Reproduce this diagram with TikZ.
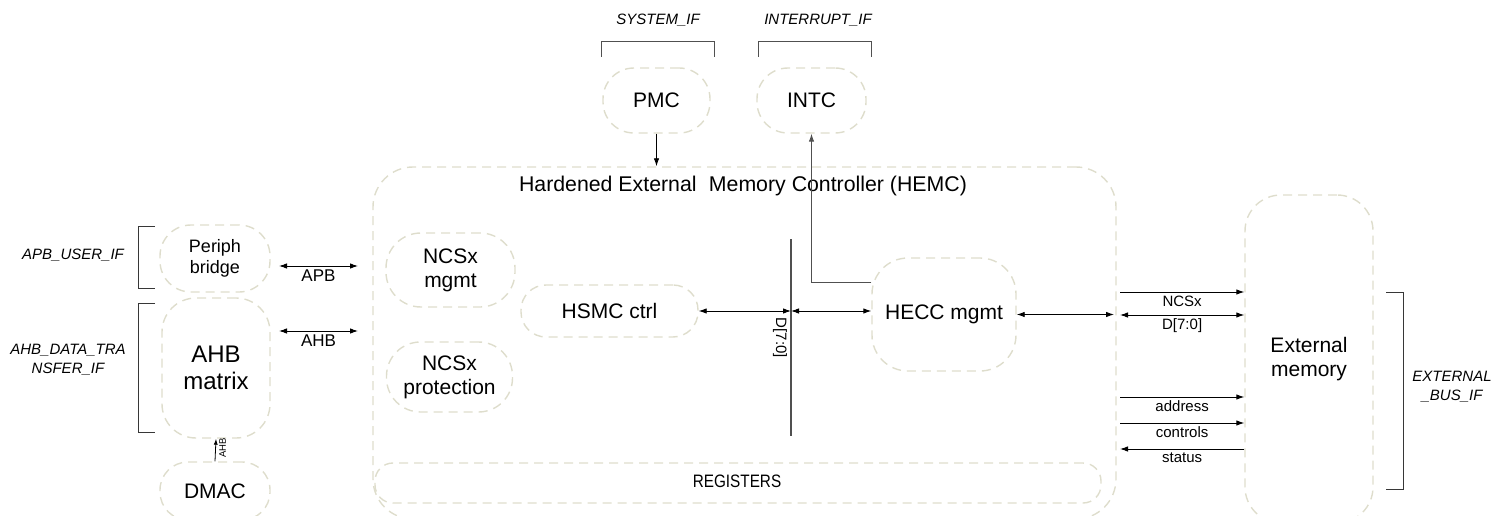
\documentclass[tikz,border=0pt]{standalone}
\usepackage{fontspec}
\setmainfont{Liberation Sans}
\usetikzlibrary{arrows.meta}
\definecolor{dashcol}{RGB}{222,221,204}
\definecolor{brk}{RGB}{55,55,55}
\definecolor{busgray}{RGB}{80,80,80}
\tikzset{
  blk/.style={draw=dashcol, line width=1.4pt, dash pattern=on 9pt off 6pt, rounded corners=#1, align=center, inner sep=0pt},
  blk/.default=25pt,
  f24/.style={font=\fontsize{24}{27}\selectfont},
  f21/.style={font=\fontsize{21}{24}\selectfont},
  ftitle/.style={font=\fontsize{21.3}{24}\selectfont},
  f18/.style={font=\fontsize{18}{21}\selectfont},
  f17/.style={font=\fontsize{17}{20}\selectfont},
  f15/.style={font=\fontsize{15}{18}\selectfont},
  ifl/.style={font=\fontsize{15}{19}\selectfont\itshape, align=center},
  brack/.style={draw=brk, line width=1pt},
  arr/.style={draw=black, line width=0.9pt, -{Latex[length=8pt,width=5.5pt]}},
  darr/.style={draw=black, line width=0.9pt, {Latex[length=8pt,width=5.5pt]}-{Latex[length=8pt,width=5.5pt]}},
}
\begin{document}
\begin{tikzpicture}[x=1pt,y=-1pt]
\useasboundingbox (0,0) rectangle (1494,516);
\clip (0,0) rectangle (1494,516);

% ---- main HEMC box
\node[blk=40pt, minimum width=743pt, minimum height=352pt] (hemc) at (744.5,343) {};
\node[ftitle] (title) at (743,186) {Hardened External\hspace{0.3em} Memory Controller (HEMC)};

% ---- left side
\node[blk=31pt, f18, minimum width=110pt, minimum height=67pt] (pb) at (215,258.5) {Periph\\bridge};
\node[blk=34pt, f24, minimum width=108pt, minimum height=140pt] (ahb) at (216,368) {AHB\\matrix};
\node[blk=28pt, f21, minimum width=110pt, minimum height=58pt] (dmac) at (215,491) {DMAC};

\draw[brack] (155,226) -- (138,226) -- (138,288) -- (155,288);
\draw[brack] (155,303) -- (138,303) -- (138,432) -- (155,432);
\node[ifl] (lapbif) at (73,255) {APB\_USER\_IF};
\node[ifl] (lahbif) at (68,360) {AHB\_DATA\_TRA\\NSFER\_IF};

\coordinate (apbL) at (279,266);
\coordinate (apbR) at (358,266);
\draw[darr] (apbL) -- (apbR) node[midway, below=0pt, f17] (lapb) {APB};
\coordinate (ahbL) at (279,331);
\coordinate (ahbR) at (358,331);
\draw[darr] (ahbL) -- (ahbR) node[midway, below=0pt, f17] (lahb) {AHB};

\draw[arr, line width=0.8pt, -{Latex[length=6pt,width=4pt]}] (dmac.north) -- (ahb.south);
\node[rotate=90, font=\fontsize{9.5}{11}\selectfont] (ldmac) at (222.5,448) {AHB};

% ---- top
\node[blk=31pt, f21, minimum width=107pt, minimum height=65pt] (pmc) at (656.5,100.5) {PMC};
\node[blk=31pt, f21, minimum width=109pt, minimum height=65pt] (intc) at (811.5,100.5) {INTC};
\draw[brack, draw=busgray] (601,57) -- (601,42) -- (714,42) -- (714,57);
\draw[brack, draw=busgray] (758,57) -- (758,42) -- (871,42) -- (871,57);
\node[ifl] (lsys) at (658,20) {SYSTEM\_IF};
\node[ifl] (lint) at (818,20) {INTERRUPT\_IF};
\draw[arr] (pmc.south) -- (pmc.south |- hemc.north);

% ---- inside HEMC
\node[blk=35pt, f21, minimum width=129pt, minimum height=74pt] (ncsm) at (450.5,270) {NCSx\\mgmt};
\node[blk=34pt, f21, minimum width=126pt, minimum height=70pt] (ncsp) at (449.5,377) {NCSx\\protection};
\node[blk=25pt, f21, minimum width=177pt, minimum height=52pt] (hsmc) at (609.5,311) {HSMC ctrl};
\node[blk=36pt, f21, minimum width=144pt, minimum height=113pt] (hecc) at (944,314.5) {HECC mgmt};
\node[blk=18pt, minimum width=726pt, minimum height=40pt] (regs) at (738,483) {};
\node[f18] (lregs) at (737,481) {\scalebox{0.85}[1]{REGISTERS}};

\coordinate (busT) at (791,239);
\coordinate (busB) at (791,436);
\draw[draw=busgray, line width=1.2pt] (busT) -- (busB);
\node[rotate=-90, f15] (ld70) at (780,338) {D[7:0]};
\draw[darr] (hsmc.east) -- (hsmc.east -| busT);
\draw[darr] (hsmc.east -| busT) -- (hsmc.east -| hecc.west);
\draw[arr, draw=busgray] (hecc.west |- 0,282) -| (intc.south);

\coordinate (heccR) at (1114,314.5);
\draw[darr] (hecc.east) -- (heccR);

% ---- external memory
\node[blk=36pt, f21, minimum width=128pt, minimum height=328pt] (ext) at (1309,359) {External\\memory};
\draw[brack] (1386,292) -- (1403,292) -- (1403,489) -- (1386,489);
\node[ifl] (lextif) at (1452,387) {EXTERNAL\\\_BUS\_IF};

\coordinate (s1) at (1120,292);
\draw[arr] (s1) -- (s1 -| ext.west) node[midway, below=0pt, f15] (lncs) {NCSx};
\coordinate (s2) at (1120,315);
\draw[darr] (s2) -- (s2 -| ext.west) node[midway, below=0pt, f15] (ld) {D[7:0]};
\coordinate (s3) at (1120,397);
\draw[arr] (s3) -- (s3 -| ext.west) node[midway, below=0pt, f15] (laddr) {address};
\coordinate (s4) at (1120,423);
\draw[arr] (s4) -- (s4 -| ext.west) node[midway, below=0pt, f15] (lctrl) {controls};
\coordinate (s5) at (1120,449);
\draw[arr] (s5 -| ext.west) -- (s5) node[midway, below=0pt, f15] (lstat) {status};
\end{tikzpicture}
\end{document}
